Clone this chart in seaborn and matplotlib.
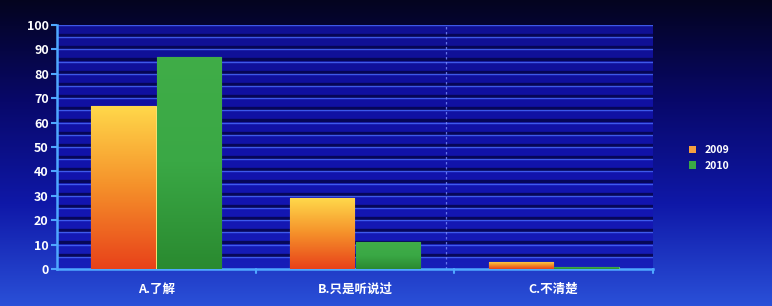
import numpy as np
import pandas as pd
import matplotlib
matplotlib.use("Agg")
import matplotlib.pyplot as plt
import seaborn as sns
from matplotlib.colors import LinearSegmentedColormap

categories = ["A.了解", "B.只是听说过", "C.不清楚"]
years = ["2009", "2010"]
values_2009 = [67, 29, 3]
values_2010 = [87, 11, 1]
yticks = [0, 10, 20, 30, 40, 50, 60, 70, 80, 90, 100]

df = pd.DataFrame({
    "cat": categories * 2,
    "year": [years[0]] * 3 + [years[1]] * 3,
    "val": values_2009 + values_2010,
})

sns.set_theme(style="white")
plt.rcParams['font.family'] = ['Noto Sans CJK SC', 'DejaVu Sans']

fig = plt.figure(figsize=(7.72, 3.06), dpi=100)

# background gradient
bg = fig.add_axes([0, 0, 1, 1], zorder=-10)
bg_cmap = LinearSegmentedColormap.from_list("bg", ["#04041f", "#08086a", "#0f18a8", "#2a50d8"])
grad = np.linspace(0, 1, 256).reshape(-1, 1)
bg.imshow(grad, aspect="auto", cmap=bg_cmap, extent=[0, 1, 0, 1], origin="upper")
bg.set_axis_off()

ax = fig.add_axes([0.0738, 0.121, 0.772, 0.797])
ax.patch.set_facecolor("#1414b4")
ax.patch.set_alpha(0.75)

palette = {"2009": "#f08a20", "2010": "#2e9a3a"}
sns.barplot(data=df, x="cat", y="val", hue="year", palette=palette, ax=ax,
            width=0.66, gap=0.02, saturation=1, legend=True, zorder=3)

ax.set_ylim(0, 100)
ax.set_xlim(-0.5, 2.5)
ax.set_yticks(yticks)
ax.set_yticklabels([str(t) for t in yticks], color="white", fontsize=9, fontweight="bold")
ax.set_xticklabels(categories, color="white", fontsize=9, fontweight="bold")
ax.set_xlabel("")
ax.set_ylabel("")

# striped grid
for y in np.arange(5, 101, 5):
    ax.axhline(y + 0.9, color="#05054a", lw=2.4, alpha=0.85, zorder=1)
    ax.axhline(y, color="#4a6cff", lw=1.0, alpha=0.8, zorder=1.2)
ax.axvline(1.46, color="#7a8cff", lw=0.9, ls=(0, (2, 2)), alpha=0.8, zorder=1.5)

for s in ["top", "right"]:
    ax.spines[s].set_visible(False)
for s in ["left", "bottom"]:
    ax.spines[s].set_color("#4fa8ff")
    ax.spines[s].set_linewidth(1.8)
ax.tick_params(axis="y", left=True, length=4, color="#4fa8ff", width=1.5, pad=2)
ax.tick_params(axis="x", bottom=False, pad=4)
for xt in [0.5, 1.5, 2.5]:
    ax.plot([xt, xt], [0, -1.5], color="#4fa8ff", lw=1.5, clip_on=False, zorder=4)

# gradient fills on bars
orange_cmap = LinearSegmentedColormap.from_list("o", ["#e8421a", "#f5902a", "#ffd84a"])
green_cmap = LinearSegmentedColormap.from_list("g", ["#2a8a30", "#3aa845", "#40ad48"])
n = len(categories)
for i, patch in enumerate(ax.patches[:2 * n]):
    cmap = orange_cmap if i < n else green_cmap
    x0, y0 = patch.get_x(), patch.get_y()
    w, h = patch.get_width(), patch.get_height()
    if h <= 0:
        continue
    im = ax.imshow(np.linspace(1, 0, 100).reshape(-1, 1), cmap=cmap, aspect="auto",
                   extent=[x0, x0 + w, y0, y0 + h], zorder=3.5, vmin=0, vmax=1)
    im.set_clip_path(patch)
    patch.set_edgecolor("#ffe070" if i < n else "#5ccf60")
    patch.set_linewidth(0.8)
ax.set_xlim(-0.5, 2.5)
ax.set_ylim(0, 100)

leg = ax.legend(loc="center left", bbox_to_anchor=(1.045, 0.455), frameon=False,
                handlelength=0.7, handleheight=0.7, labelcolor="white",
                prop={"weight": "bold", "size": 7.5})
for h in leg.legend_handles:
    h.set_edgecolor("none")
leg.legend_handles[0].set_facecolor("#f5a040")
leg.legend_handles[1].set_facecolor("#3aa845")

fig.savefig("out.png", dpi=100)
